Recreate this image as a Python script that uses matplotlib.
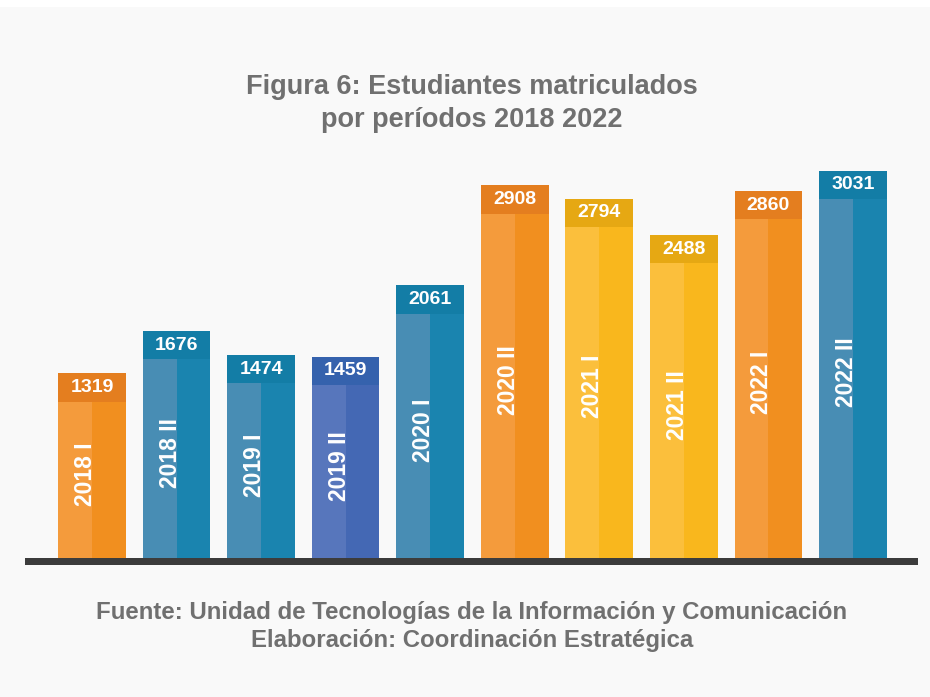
import matplotlib.pyplot as plt
from matplotlib.patches import Rectangle

periods = ["2018 I", "2018 II", "2019 I", "2019 II", "2020 I",
           "2020 II", "2021 I", "2021 II", "2022 I", "2022 II"]
values = [1319, 1676, 1474, 1459, 2061, 2908, 2794, 2488, 2860, 3031]
groups = ["orange", "teal", "teal", "blue", "teal",
          "orange", "yellow", "yellow", "orange", "teal"]

# (light half, dark half, label box)
palette = {
    "orange": ("#F49B3C", "#F18F1F", "#E47E1F"),
    "teal": ("#488DB4", "#1A84AF", "#137DA6"),
    "blue": ("#5776BC", "#4468B4", "#3562AD"),
    "yellow": ("#FBBF3C", "#F9B71D", "#E6A813"),
}

plt.rcParams['font.family'] = ['Liberation Sans', 'DejaVu Sans']

fig = plt.figure(figsize=(9.3, 6.97), dpi=100, facecolor="#f9f9f9")
fig.patches.append(Rectangle((0, 1 - 7 / 697), 1, 7 / 697, transform=fig.transFigure,
                             facecolor="white", edgecolor="none", zorder=0))

ax = fig.add_axes([25 / 930, 1 - 558 / 697, (918 - 25) / 930, (558 - 160) / 697])
ax.set_facecolor("#f9f9f9")
ax.set_xlim(-0.792, 9.769)
ax.set_ylim(0, 3360)

width = 0.80
box_h = 240
for i, (p, v, g) in enumerate(zip(periods, values, groups)):
    light, dark, box = palette[g]
    ax.bar(i - width / 4, v, width / 2, color=light, linewidth=0)
    ax.bar(i + width / 4, v, width / 2, color=dark, linewidth=0)
    ax.bar(i, box_h, width, bottom=v, color=box, linewidth=0)
    ax.text(i, v + box_h / 2, str(v), ha="center", va="center", color="white",
            fontsize=14, fontweight="bold")
    ax.text(i, v / 2 + 50, p, ha="center", va="baseline", rotation=90,
            rotation_mode="anchor", color="white", fontsize=16.5, fontweight="bold")

for s in ax.spines.values():
    s.set_visible(False)
ax.set_xticks([])
ax.set_yticks([])

# baseline bar
fig.patches.append(Rectangle((25 / 930, 1 - 565 / 697), (918 - 25) / 930, 7 / 697,
                             transform=fig.transFigure, facecolor="#3c3c3c",
                             edgecolor="none", zorder=3))

title_kw = dict(ha="center", va="center", fontsize=19.5, fontweight="bold",
                color="#707070")
fig.text(472 / 930, 1 - 87 / 697, "Figura 6: Estudiantes matriculados", **title_kw)
fig.text(472 / 930, 1 - 120 / 697, "por períodos 2018 2022", **title_kw)

foot_kw = dict(ha="center", va="center", fontsize=17.3, fontweight="bold",
               color="#707070")
fig.text(472 / 930, 1 - 612 / 697,
         "Fuente: Unidad de Tecnologías de la Información y Comunicación", **foot_kw)
fig.text(472 / 930, 1 - 641 / 697, "Elaboración: Coordinación Estratégica", **foot_kw)

fig.savefig("out.png", dpi=100, facecolor=fig.get_facecolor())
